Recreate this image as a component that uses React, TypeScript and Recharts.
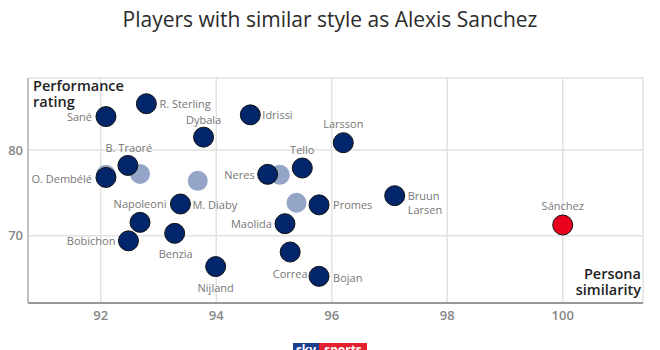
import React from "react";
import { ScatterChart, Scatter, XAxis, YAxis, CartesianGrid } from "recharts";

// similar players (dark dots)
const players = [
  "Sané", "R. Sterling", "Dybala", "Idrissi", "Larsson", "Tello", "Neres",
  "B. Traoré", "O. Dembélé", "Napoleoni", "M. Diaby", "Bobichon", "Benzia",
  "Nijland", "Promes", "Maolida", "Correa", "Bojan", "Bruun Larsen",
];
const similarity = [
  92.09, 92.79, 93.78, 94.59, 96.2, 95.49, 94.89,
  92.47, 92.09, 92.68, 93.38, 92.48, 93.28,
  93.99, 95.78, 95.19, 95.28, 95.78, 97.09,
];
const rating = [
  83.9, 85.4, 81.5, 84.1, 80.85, 77.9, 77.16,
  78.2, 76.8, 71.56, 73.7, 69.4, 70.28,
  66.4, 73.6, 71.4, 68.1, 65.26, 74.67,
];

// faded unlabelled players
const fadedSimilarity = [92.09, 92.68, 93.68, 95.1, 95.39];
const fadedRating = [77.1, 77.2, 76.4, 77.1, 73.85];

// reference player
const targetName = ["Sánchez"];
const targetSimilarity = [100];
const targetRating = [71.25];

const xTicks = [92, 94, 96, 98, 100];
const yTicks = [70, 80];

const FONT = "'Open Sans', sans-serif";

// label placement: [anchor, dx, dy]
const placement: Record<string, [string, number, number]> = {
  "Sané": ["end", -14, 0],
  "R. Sterling": ["start", 13, 0],
  "Dybala": ["middle", 0, -18],
  "Idrissi": ["start", 12, 0],
  "Larsson": ["middle", 0, -19],
  "Tello": ["middle", 0, -19],
  "Neres": ["end", -13, 0],
  "B. Traoré": ["middle", 1, -18],
  "O. Dembélé": ["end", -14, 1],
  "Napoleoni": ["middle", 0, -19],
  "M. Diaby": ["start", 12, 0],
  "Bobichon": ["end", -13, 0],
  "Benzia": ["middle", 1, 20],
  "Nijland": ["middle", 0, 21],
  "Promes": ["start", 14, 0],
  "Maolida": ["end", -13, 0],
  "Correa": ["middle", 0, 21],
  "Bojan": ["start", 14, 1],
  "Bruun Larsen": ["start", 13, 0],
  "Sánchez": ["middle", 0, -20],
};

const darkData = players.map((name, i) => ({ name, x: similarity[i], y: rating[i] }));
const fadedData = fadedSimilarity.map((x, i) => ({ x, y: fadedRating[i] }));
const targetData = targetName.map((name, i) => ({ name, x: targetSimilarity[i], y: targetRating[i] }));

const LabelledDot = (props: any) => {
  const { cx, cy, payload, fill } = props;
  const [anchor, dx, dy] = placement[payload.name] || ["start", 12, 0];
  const lines = payload.name === "Bruun Larsen" ? ["Bruun", "Larsen"] : [payload.name];
  return (
    <g>
      <circle cx={cx} cy={cy} r={10} fill={fill} stroke="#111" strokeWidth={1} />
      {lines.map((l, i) => (
        <text
          key={i}
          x={cx + dx}
          y={cy + dy + i * 13.5}
          textAnchor={anchor as any}
          dominantBaseline="central"
          fontSize={11}
          fontFamily={FONT}
          fill="#777"
        >
          {l}
        </text>
      ))}
    </g>
  );
};

const FadedDot = (props: any) => (
  <circle cx={props.cx} cy={props.cy} r={10} fill="#95a5c7" />
);

export default function App() {
  return (
    <div style={{ position: "absolute", left: 0, top: 0, width: 660, height: 350, background: "#fff", fontFamily: FONT }}>
      <div style={{ position: "absolute", top: 5, width: 660, textAlign: "center", fontSize: 21, color: "#2b2b2b", fontWeight: 500 }}>
        Players with similar style as Alexis Sanchez
      </div>
      <ScatterChart width={660} height={350} margin={{ top: 78, right: 17, bottom: 17, left: 0 }}>
        <CartesianGrid stroke="#e2e2e2" strokeWidth={1.5} />
        <XAxis
          type="number"
          dataKey="x"
          domain={[90.74, 101.39]}
          ticks={xTicks}
          allowDataOverflow
          height={30}
          tickLine={false}
          axisLine={{ stroke: "#999", strokeWidth: 2 }}
          tick={{ fill: "#888", fontSize: 13, fontWeight: 600, fontFamily: FONT }}
        />
        <YAxis
          type="number"
          dataKey="y"
          domain={[62.15, 88.4]}
          ticks={yTicks}
          allowDataOverflow
          width={28}
          tickLine={false}
          tickSize={3}
          axisLine={{ stroke: "#999", strokeWidth: 1 }}
          tick={{ fill: "#888", fontSize: 13, fontWeight: 600, fontFamily: FONT }}
        />
        <Scatter data={fadedData} shape={<FadedDot />} isAnimationActive={false} />
        <Scatter data={darkData} fill="#01266b" shape={<LabelledDot />} isAnimationActive={false} />
        <Scatter data={targetData} fill="#e8001c" shape={<LabelledDot />} isAnimationActive={false} />
        <text x={33} y={85} dominantBaseline="central" fontSize={14.5} fontWeight={600} fontFamily={FONT} fill="#222">Performance</text>
        <text x={33} y={101} dominantBaseline="central" fontSize={14.5} fontWeight={600} fontFamily={FONT} fill="#222">rating</text>
        <text x={641} y={273} textAnchor="end" dominantBaseline="central" fontSize={14.5} fontWeight={600} fontFamily={FONT} fill="#222">Persona</text>
        <text x={641} y={289} textAnchor="end" dominantBaseline="central" fontSize={14.5} fontWeight={600} fontFamily={FONT} fill="#222">similarity</text>
      </ScatterChart>
      <div style={{ position: "absolute", left: 293, top: 343, height: 14, display: "flex", fontSize: 12, fontWeight: 700, color: "#fff", lineHeight: "14px" }}>
        <div style={{ background: "#1a3f8f", width: 26, textAlign: "center" }}>sky</div>
        <div style={{ background: "#e4212f", width: 48, textAlign: "center" }}>sports</div>
      </div>
    </div>
  );
}
